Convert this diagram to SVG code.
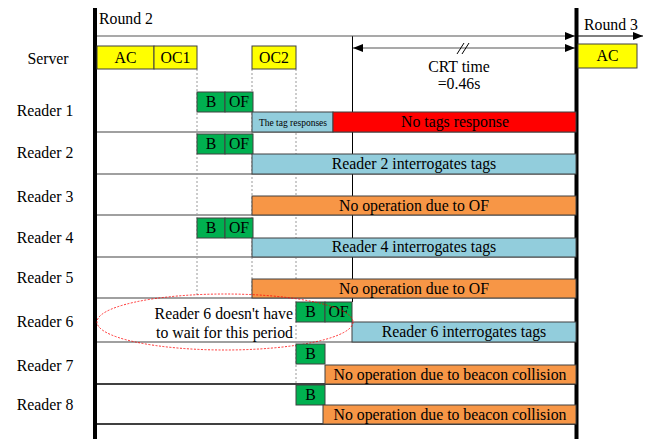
<svg xmlns="http://www.w3.org/2000/svg" width="650" height="439" viewBox="0 0 650 439" font-family="'Liberation Serif', 'DejaVu Serif', serif">
<style>
text{font-family:'Liberation Serif','DejaVu Serif',serif;font-size:15.8px;fill:#000}
.lbl{text-anchor:middle}
.c{text-anchor:middle}
.box{stroke:#404040;stroke-width:1}
.y{fill:#FFFF00}.g{fill:#00B050}.b{fill:#92CDDC}.r{fill:#FF0000}.o{fill:#F79646}
.sep{stroke:#808080;stroke-width:1.5}
.sepk{stroke:#000;stroke-width:1.5}
.dash{stroke:#999;stroke-width:1;stroke-dasharray:2,2}
</style>
<defs>
<marker id="ah" markerWidth="10" markerHeight="8" refX="10" refY="4" orient="auto" markerUnits="userSpaceOnUse">
<path d="M0,0 L10,4 L0,8 Z" fill="#000"/>
</marker>
<marker id="ahs" markerWidth="10" markerHeight="8" refX="0" refY="4" orient="auto" markerUnits="userSpaceOnUse">
<path d="M10,0 L0,4 L10,8 Z" fill="#000"/>
</marker>
</defs>
<rect width="650" height="439" fill="#fff"/>

<g id="connectors">
<line class="sep" x1="95" y1="132" x2="576" y2="132"/>
<line class="sep" x1="95" y1="174" x2="576" y2="174"/>
<line class="sep" x1="95" y1="215" x2="576" y2="215"/>
<line class="sep" x1="95" y1="257" x2="576" y2="257"/>
<line class="sep" x1="95" y1="298" x2="576" y2="298"/>
<line class="sep" x1="95" y1="342" x2="576" y2="342"/>
<line class="sepk" x1="95" y1="384" x2="576" y2="384"/>
<line class="sepk" x1="95" y1="424" x2="576" y2="424"/>
<line class="dash" x1="197" y1="69" x2="197" y2="298"/>
<line class="dash" x1="252" y1="69" x2="252" y2="298"/>
<line class="dash" x1="296" y1="69" x2="296" y2="384"/>
<line x1="352.5" y1="36" x2="352.5" y2="302" stroke="#000" stroke-width="1"/>
<line x1="95" y1="36" x2="575" y2="36" stroke="#555" stroke-width="1.2" marker-end="url(#ah)"/>
<line x1="578" y1="36" x2="643" y2="36" stroke="#000" stroke-width="1.2" marker-end="url(#ah)"/>
<line x1="353" y1="48" x2="575" y2="48" stroke="#555" stroke-width="1.2" marker-start="url(#ahs)" marker-end="url(#ah)"/>
<line x1="457" y1="54" x2="464" y2="43" stroke="#000" stroke-width="1"/>
<line x1="462" y1="54" x2="469" y2="43" stroke="#000" stroke-width="1"/>
<line x1="95" y1="8" x2="95" y2="439" stroke="#000" stroke-width="4"/>
<line x1="576.5" y1="8" x2="576.5" y2="439" stroke="#000" stroke-width="4"/>
</g>

<g id="titles">
<text x="99" y="24">Round 2</text>
<text x="584" y="30">Round 3</text>
<text x="459" y="72" class="c">CRT time</text>
<text x="459" y="89" class="c">=0.46s</text>
</g>

<g id="labels">
<text x="48" y="64" class="lbl">Server</text>
<text x="45" y="116" class="lbl">Reader 1</text>
<text x="45" y="158" class="lbl">Reader 2</text>
<text x="45" y="202" class="lbl">Reader 3</text>
<text x="45" y="243" class="lbl">Reader 4</text>
<text x="45" y="283" class="lbl">Reader 5</text>
<text x="45" y="327" class="lbl">Reader 6</text>
<text x="45" y="371" class="lbl">Reader 7</text>
<text x="45" y="410" class="lbl">Reader 8</text>
</g>

<g id="server">
<rect class="box y" x="97" y="46" width="57" height="23"/>
<text x="125.5" y="63" class="c">AC</text>
<rect class="box y" x="154" y="46" width="43" height="23"/>
<text x="175.5" y="63" class="c">OC1</text>
<rect class="box y" x="252" y="46" width="44" height="23"/>
<text x="274" y="63" class="c">OC2</text>
<rect class="box y" x="578" y="44" width="59" height="24"/>
<text x="607.5" y="61" class="c">AC</text>
</g>

<g id="reader1">
<rect class="box g" x="197" y="92" width="28" height="20"/>
<text x="211" y="107" class="c">B</text>
<rect class="box g" x="225" y="92" width="28" height="20"/>
<text x="239" y="107" class="c">OF</text>
<rect class="box b" x="252" y="112" width="81" height="20"/>
<text x="293" y="126" class="c" style="font-size:9.5px">The tag responses</text>
<rect class="box r" x="333" y="112" width="243" height="20"/>
<text x="455" y="127" class="c">No tags response</text>
</g>

<g id="reader2">
<rect class="box g" x="197" y="134" width="28" height="20"/>
<text x="211" y="149" class="c">B</text>
<rect class="box g" x="225" y="134" width="28" height="20"/>
<text x="239" y="149" class="c">OF</text>
<rect class="box b" x="252" y="154" width="324" height="20"/>
<text x="414" y="169" class="c">Reader 2 interrogates tags</text>
</g>

<g id="reader3">
<rect class="box o" x="252" y="196" width="324" height="19"/>
<text x="414" y="211" class="c">No operation due to OF</text>
</g>

<g id="reader4">
<rect class="box g" x="197" y="218" width="28" height="20"/>
<text x="211" y="233" class="c">B</text>
<rect class="box g" x="225" y="218" width="28" height="20"/>
<text x="239" y="233" class="c">OF</text>
<rect class="box b" x="252" y="238" width="324" height="19"/>
<text x="414" y="252" class="c">Reader 4 interrogates tags</text>
</g>

<g id="reader5">
<rect class="box o" x="252" y="279" width="324" height="19"/>
<text x="414" y="294" class="c">No operation due to OF</text>
</g>

<g id="reader6">
<rect class="box g" x="296" y="302" width="29" height="20"/>
<text x="310.5" y="317" class="c">B</text>
<rect class="box g" x="325" y="302" width="27" height="20"/>
<text x="338.5" y="317" class="c">OF</text>
<rect class="box b" x="352" y="322" width="224" height="20"/>
<text x="464" y="337" class="c">Reader 6 interrogates tags</text>
<ellipse cx="225" cy="322" rx="128" ry="28" fill="none" stroke="#FF0000" stroke-width="0.8" stroke-dasharray="2,1.5"/>
<text x="293" y="319" text-anchor="end">Reader 6 doesn't have</text>
<text x="293" y="338" text-anchor="end">to wait for this period</text>
</g>

<g id="reader7">
<rect class="box g" x="296" y="344" width="29" height="20"/>
<text x="310.5" y="359" class="c">B</text>
<rect class="box o" x="325" y="365" width="251" height="19"/>
<text x="450" y="380" class="c">No operation due to beacon collision</text>
</g>

<g id="reader8">
<rect class="box g" x="296" y="385" width="29" height="20"/>
<text x="310.5" y="400" class="c">B</text>
<rect class="box o" x="323" y="405" width="253" height="19"/>
<text x="450" y="420" class="c">No operation due to beacon collision</text>
</g>
</svg>
